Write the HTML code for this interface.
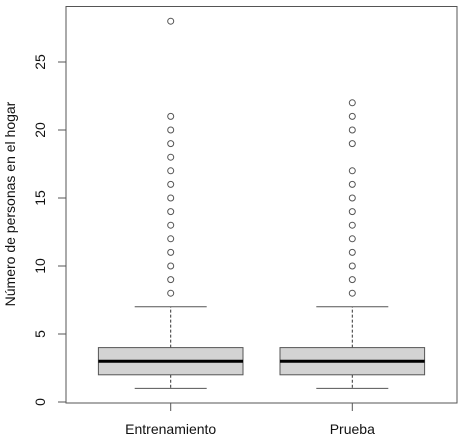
<!DOCTYPE html>
<html><head><meta charset="utf-8"><style>body{margin:0;background:#fff}svg{display:block;font-family:"Liberation Sans",sans-serif}</style></head><body>
<svg id="c" width="465" height="442"></svg>
<script>
const categories=["Entrenamiento","Prueba"];
const mins=[1,1];
const q1s=[2,2];
const medians=[3,3];
const q3s=[4,4];
const maxs=[7,7];
const outliers=[[8,9,10,11,12,13,14,15,16,17,18,19,20,21,28],[8,9,10,11,12,13,14,15,16,17,19,20,21,22]];
const yTicks=[0,5,10,15,20,25];
const NS="http://www.w3.org/2000/svg";
const svg=document.getElementById('c');
const L=66,R=457,T=6.5,B=403;
const y=v=>402-v*13.6;
const xc=i=>170.7+i*181.6;
const hw=72.3, cap=36;
function el(t,a,p){const e=document.createElementNS(NS,t);for(const k in a)e.setAttribute(k,a[k]);(p||svg).appendChild(e);return e;}
const frame=el('rect',{x:L,y:T,width:R-L,height:B-T,fill:'none',stroke:'#555','stroke-width':1});


yTicks.forEach(v=>{
  const g=el('g',{});
  
  
  el('line',{x1:58,x2:L,y1:y(v),y2:y(v),stroke:'#555'},g);
  const t=el('text',{x:45,y:y(v),transform:`rotate(-90 45 ${y(v)})`,'text-anchor':'middle','font-size':14,fill:'#111'},g);
  t.textContent=v;
});
const yt=el('text',{x:15,y:204,transform:'rotate(-90 15 204)','text-anchor':'middle','font-size':14,fill:'#111'});


yt.textContent='Número de personas en el hogar';
categories.forEach((c,i)=>{
  const x=xc(i);
  const g=el('g',{});
  
  
  el('line',{x1:x,x2:x,y1:y(q3s[i]),y2:y(maxs[i]),stroke:'#333','stroke-dasharray':'3,2'},g);
  el('line',{x1:x,x2:x,y1:y(q1s[i]),y2:y(mins[i]),stroke:'#333','stroke-dasharray':'3,2'},g);
  el('line',{x1:x-cap,x2:x+cap,y1:y(maxs[i]),y2:y(maxs[i]),stroke:'#555'},g);
  el('line',{x1:x-cap,x2:x+cap,y1:y(mins[i]),y2:y(mins[i]),stroke:'#555'},g);
  el('rect',{x:x-hw,y:y(q3s[i]),width:2*hw,height:y(q1s[i])-y(q3s[i]),fill:'#d3d3d3',stroke:'#555'},g);
  el('line',{x1:x-hw,x2:x+hw,y1:y(medians[i]),y2:y(medians[i]),stroke:'#000','stroke-width':3},g);
  outliers[i].forEach(v=>{
    const o=el('circle',{cx:x,cy:y(v),r:3,fill:'none',stroke:'#555'},g);
    
    
  });
  el('line',{x1:x,x2:x,y1:B,y2:B+8,stroke:'#555'},g);
  const t=el('text',{x:x,y:434,'text-anchor':'middle','font-size':14,fill:'#111'});
  
  
  t.textContent=c;
});
</script>
</body></html>
